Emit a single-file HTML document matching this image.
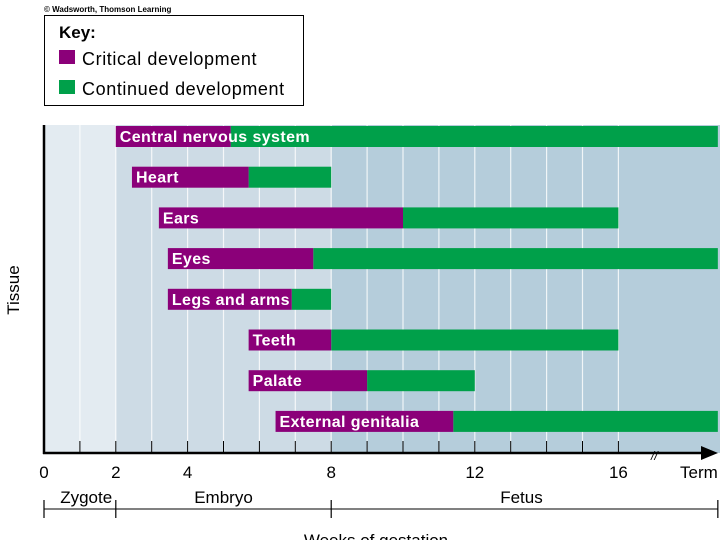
<!DOCTYPE html>
<html><head><meta charset="utf-8"><style>
body{margin:0;background:#fff;font-family:"Liberation Sans",sans-serif;}
svg text{font-family:"Liberation Sans",sans-serif;}
</style></head><body>
<svg width="720" height="540" viewBox="0 0 720 540">
<text x="44" y="12" font-size="8" font-weight="bold">© Wadsworth, Thomson Learning</text>
<g>
<rect x="44.5" y="15.5" width="259" height="90" fill="#fff" stroke="#000"/>
<text x="59" y="38" font-size="17" font-weight="bold">Key:</text>
<rect x="59" y="50" width="16" height="14" fill="#8b0079"/>
<text x="82" y="65" font-size="18" letter-spacing="0.6">Critical development</text>
<rect x="59" y="80" width="16" height="14" fill="#00a04a"/>
<text x="82" y="95" font-size="18" letter-spacing="0.6">Continued development</text>
</g>
<g id="plot"></g>
<text transform="translate(19,290) rotate(-90)" text-anchor="middle" font-size="17">Tissue</text>
</svg>
<script>
const tissues=["Central nervous system","Heart","Ears","Eyes","Legs and arms","Teeth","Palate","External genitalia"];
const starts=[2,2.45,3.2,3.45,3.45,5.7,5.7,6.45];
const criticalEnd=[5.2,5.7,10,7.5,6.9,8,9,11.4];
const continuedEnd=[18.77,8,16,18.77,8,16,12,18.77];
const tickVals=[0,2,4,8,12,16];
const TERM=18.77;
const NS="http://www.w3.org/2000/svg";
const g=document.getElementById('plot');
const x=w=>44+w*35.9;
const rowY=i=>136+i*40.7;
function el(t,a){const e=document.createElementNS(NS,t);for(const k in a)e.setAttribute(k,a[k]);g.appendChild(e);return e;}
let b=el('rect',{x:x(0),y:125,width:x(2)-x(0),height:328,fill:'#e3ebf1'});


b=el('rect',{x:x(2),y:125,width:x(8)-x(2),height:328,fill:'#cddbe5'});


b=el('rect',{x:x(8),y:125,width:720-x(8),height:328,fill:'#b5cddb'});


for(let w=1;w<=16;w++){
 let l=el('line',{x1:x(w),x2:x(w),y1:125,y2:453,stroke:'#fff','stroke-width':1.2,opacity:0.8});
 
 
 let t=el('line',{x1:x(w),x2:x(w),y1:441,y2:453,stroke:'#000','stroke-width':1});
 
 
}
tissues.forEach((n,i)=>{
 const y=rowY(i)-10;
 let c=el('rect',{x:x(criticalEnd[i]),y:y,width:x(continuedEnd[i])-x(criticalEnd[i]),height:21,fill:'#00a04a'});
 
 
 let p=el('rect',{x:x(starts[i]),y:y,width:x(criticalEnd[i])-x(starts[i]),height:21,fill:'#8b0079'});
 
 
 let t=el('text',{x:x(starts[i])+4,y:rowY(i)+6,fill:'#fff','font-size':16,'font-weight':'bold','letter-spacing':0.4});
 t.textContent=n;
 
 
});
let ax=el('line',{x1:44,x2:44,y1:125,y2:454,stroke:'#000','stroke-width':2.5});


ax=el('line',{x1:43,x2:705,y1:453,y2:453,stroke:'#000','stroke-width':2.5});


let ar=el('polygon',{points:'701,446 718,453 701,460',fill:'#000'});


let br=el('text',{x:651,y:460,'font-size':12,'font-style':'italic'});br.textContent='//';


tickVals.forEach(v=>{
 let t=el('text',{x:x(v),y:478,'text-anchor':'middle','font-size':17});
 t.textContent=v;
 
 
});
let tt=el('text',{x:x(TERM),y:478,'text-anchor':'end','font-size':17});tt.textContent='Term';


let sl=el('line',{x1:44,x2:718,y1:509,y2:509,stroke:'#000','stroke-width':1});


[0,2,8,TERM].forEach(v=>{
 let t=el('line',{x1:x(v),x2:x(v),y1:500,y2:518,stroke:'#000','stroke-width':1.2});
 
 
});
[["Zygote",1.9,'end'],["Embryo",5,'middle'],["Fetus",13.3,'middle']].forEach(s=>{
 let t=el('text',{x:x(s[1]),y:503,'text-anchor':s[2],'font-size':17});
 t.textContent=s[0];
 
 
});
let xt=el('text',{x:376,y:546,'text-anchor':'middle','font-size':17});xt.textContent='Weeks of gestation';


</script>
</body></html>
